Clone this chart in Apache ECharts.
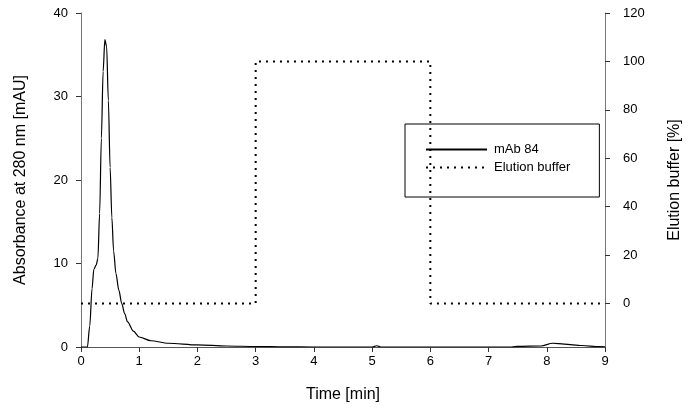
<!DOCTYPE html>
<html>
<head>
<meta charset="utf-8">
<script src="https://cdn.jsdelivr.net/npm/echarts@6/dist/echarts.min.js"></script>
<style>
  html, body { margin: 0; padding: 0; background: #fff; }
  #chart { width: 695px; height: 408px; }
</style>
</head>
<body>
<div id="chart"></div>
<script>
// absorbance trace, [time (min), mAU]
var absorbance = [
  [0, 0], [0.11, 0], [0.15, 2.5], [0.19, 7], [0.22, 9.3], [0.26, 9.8], [0.29, 10.6],
  [0.32, 16], [0.35, 25], [0.38, 33], [0.41, 36.8], [0.44, 36], [0.47, 29.5],
  [0.50, 21.5], [0.53, 15.5], [0.56, 11.5], [0.60, 8.8], [0.65, 6.8], [0.70, 5.2],
  [0.75, 4], [0.80, 3], [0.90, 1.9], [1.0, 1.2], [1.2, 0.75], [1.5, 0.45], [2, 0.25],
  [2.5, 0.12], [3, 0.06], [3.5, 0.02], [4, 0], [5, 0], [5.08, 0.15], [5.15, 0],
  [7.4, 0], [7.5, 0.08], [7.9, 0.12], [8.1, 0.45], [8.3, 0.35], [8.6, 0.18],
  [8.9, 0.05], [9, 0.03]
]
// elution buffer step program, [time (min), %]
var elution = [[0, 0], [3, 0], [3, 100], [6, 100], [6, 0], [9, 0]]
var rightTicks = [0, 20, 40, 60, 80, 100, 120]

var font = 'Liberation Sans, Arial, sans-serif'
var chart = echarts.init(document.getElementById('chart'))
chart.setOption({
  animation: false,
  textStyle: { fontFamily: font, color: '#000' },
  grid: { left: 81, right: 90, top: 13, bottom: 59 },
  legend: {
    orient: 'vertical',
    left: 405,
    top: 124,
    padding: [19, 29, 23, 20],
    borderColor: '#000',
    borderWidth: 1,
    itemWidth: 61,
    itemHeight: 10,
    itemGap: 5,
    itemStyle: { opacity: 0 },
    textStyle: { fontFamily: font, fontSize: 13, color: '#000', padding: [0, 0, 0, 2] },
    data: ['mAb 84', 'Elution buffer']
  },
  xAxis: {
    type: 'value',
    min: 0,
    max: 9,
    interval: 1,
    name: 'Time [min]',
    nameLocation: 'middle',
    nameGap: 40,
    nameTextStyle: { fontSize: 16, color: '#000' },
    axisLine: { lineStyle: { color: '#555' } },
    axisTick: { length: 5, lineStyle: { color: '#333' } },
    axisLabel: { fontSize: 13, color: '#000', margin: 8 },
    splitLine: { show: false }
  },
  yAxis: [
    {
      type: 'value',
      min: 0,
      max: 40,
      interval: 10,
      name: 'Absorbance at 280 nm [mAU]',
      nameLocation: 'middle',
      nameGap: 52,
      nameTextStyle: { fontSize: 16, color: '#000' },
      axisLine: { show: true, lineStyle: { color: '#777' } },
      axisTick: { show: true, length: 5, lineStyle: { color: '#333' } },
      axisLabel: { fontSize: 13, color: '#000', margin: 13 },
      splitLine: { show: false }
    },
    {
      type: 'value',
      position: 'right',
      min: -18,
      max: 120,
      name: 'Elution buffer [%]',
      nameLocation: 'middle',
      nameGap: 62,
      nameRotate: 90,
      nameTextStyle: { fontSize: 16, color: '#000' },
      axisLine: { show: true, lineStyle: { color: '#777' } },
      axisTick: { show: true, length: 5, customValues: rightTicks, lineStyle: { color: '#333' } },
      axisLabel: { fontSize: 13, color: '#000', margin: 18, customValues: rightTicks },
      splitLine: { show: false }
    }
  ],
  series: [
    {
      name: 'mAb 84',
      type: 'line',
      yAxisIndex: 0,
      data: absorbance,
      symbol: 'none',
      smooth: 0.3,
      smoothMonotone: 'x',
      lineStyle: { color: '#000', width: 1.2 },
      itemStyle: { color: '#000' }
    },
    {
      name: 'Elution buffer',
      type: 'line',
      yAxisIndex: 1,
      data: elution,
      symbol: 'none',
      lineStyle: { color: '#000', width: 2, type: [2, 5] },
      itemStyle: { color: '#000' }
    }
  ]
})
</script>
</body>
</html>
